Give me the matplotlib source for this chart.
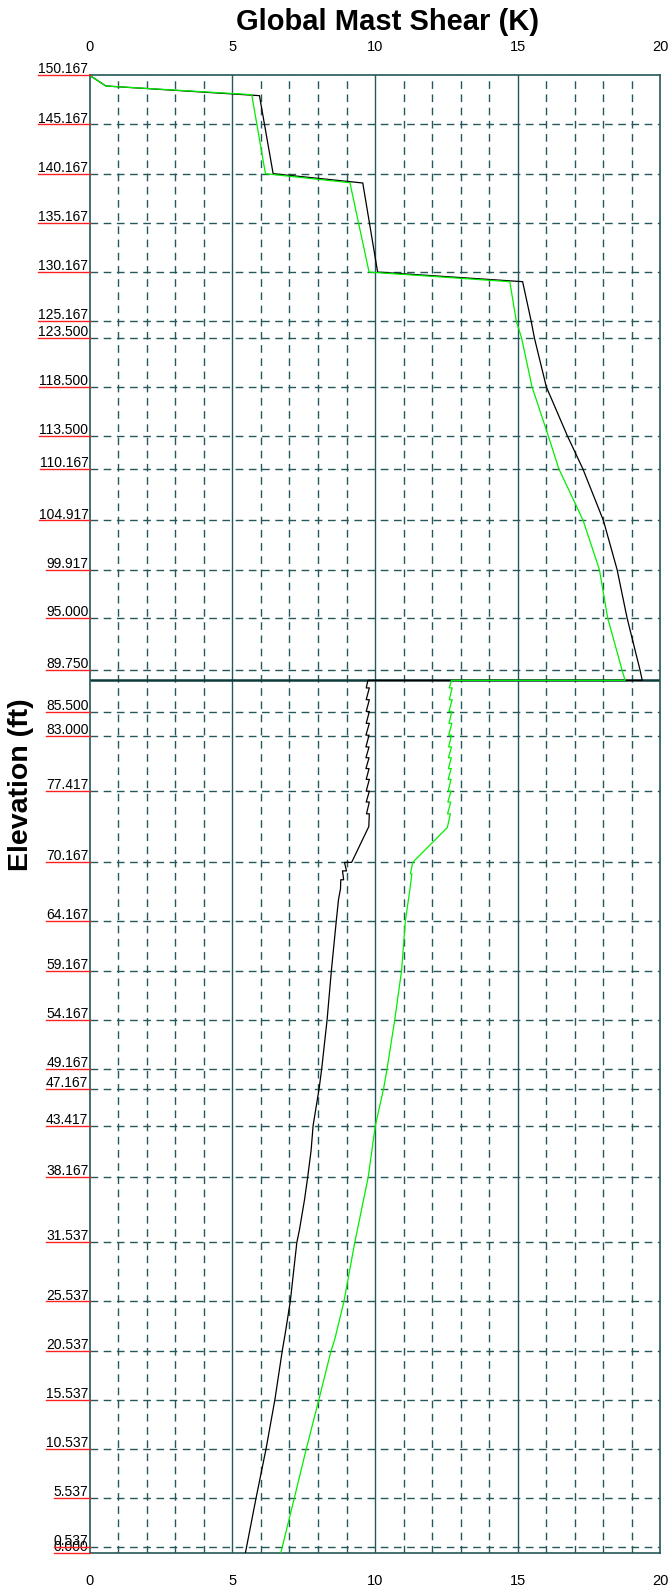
import matplotlib
matplotlib.use("Agg")
import matplotlib.pyplot as plt
from matplotlib.transforms import blended_transform_factory

plt.rcParams['font.family'] = ['Liberation Sans', 'DejaVu Sans']

# Elevations marked on the mast (ft) and their printed labels
elevation_ticks = [150.167, 145.167, 140.167, 135.167, 130.167, 125.167, 123.500,
                   118.500, 113.500, 110.167, 104.917, 99.917, 95.000, 89.750,
                   85.500, 83.000, 77.417, 70.167, 64.167, 59.167, 54.167, 49.167,
                   47.167, 43.417, 38.167, 31.537, 25.537, 20.537, 15.537, 10.537,
                   5.537, 0.537, 0.000]
elevation_labels = ["150.167", "145.167", "140.167", "135.167", "130.167", "125.167",
                    "123.500", "118.500", "113.500", "110.167", "104.917", "99.917",
                    "95.000", "89.750", "85.500", "83.000", "77.417", "70.167",
                    "64.167", "59.167", "54.167", "49.167", "47.167", "43.417",
                    "38.167", "31.537", "25.537", "20.537", "15.537", "10.537",
                    "5.537", "0.537", "0.000"]
guy_elevation = 88.667
shear_ticks = [0, 5, 10, 15, 20]
shear_tick_labels = ["0", "5", "10", "15", "20"]

# Shear envelope, black series (K) vs elevation (ft)
black_elev = [150.167, 149.08, 148.10, 140.167, 139.22, 130.167, 129.19, 125.167,
              123.5, 118.5, 113.5, 110.167, 104.917, 99.917, 95.0, 89.75, 88.667,
              88.667, 87.9, 87.9, 86.7, 86.7, 85.5, 85.5, 84.3, 84.3, 83.1, 83.1,
              81.9, 81.9, 80.8, 80.8, 79.7, 79.7, 78.6, 78.6, 77.4, 77.4, 76.3,
              76.3, 75.1, 75.1, 73.8, 70.167, 70.167, 69.3, 69.3, 68.4, 68.4, 67.5,
              66.4, 64.167, 59.167, 54.167, 49.167, 47.167, 43.417, 40.9, 38.167,
              35.9, 32.8, 31.537, 25.537, 22.4, 20.537, 15.537, 10.537, 5.537, 0.0]
black_shear = [0.0, 0.57, 5.95, 6.43, 9.57, 10.09, 15.17, 15.47,
               15.58, 16.00, 16.74, 17.28, 18.00, 18.48, 18.83, 19.28, 19.36,
               9.75, 9.69, 9.80, 9.69, 9.80, 9.69, 9.80, 9.69, 9.80, 9.68, 9.79,
               9.68, 9.79, 9.68, 9.79, 9.68, 9.79, 9.69, 9.80, 9.69, 9.80, 9.69,
               9.80, 9.70, 9.80, 9.78, 9.18, 8.93, 9.00, 8.86, 8.90, 8.80, 8.79,
               8.72, 8.64, 8.47, 8.32, 8.13, 8.04, 7.83, 7.76, 7.64,
               7.53, 7.35, 7.26, 7.03, 6.86, 6.75, 6.49, 6.18, 5.83, 5.46]

# Shear envelope, green series (K) vs elevation (ft)
green_elev = [150.167, 149.08, 148.2, 140.167, 139.25, 130.167, 129.19, 125.167,
              123.5, 118.5, 113.5, 110.167, 104.917, 99.917, 95.0, 89.75, 88.667,
              88.667, 87.9, 87.9, 86.7, 86.7, 85.5, 85.5, 84.3, 84.3, 83.1, 83.1,
              81.9, 81.9, 80.8, 80.8, 79.7, 79.7, 78.6, 78.6, 77.4, 77.4, 76.3,
              76.3, 75.1, 75.1, 73.7, 70.167, 69.0, 69.0, 67.2, 64.167, 59.167,
              54.167, 49.167, 47.167, 43.417, 38.167, 31.537, 25.537, 22.3, 21.6,
              20.537, 15.537, 10.537, 5.537, 0.0]
green_shear = [0.0, 0.57, 5.68, 6.16, 9.12, 9.79, 14.72, 14.95,
               15.13, 15.50, 16.07, 16.44, 17.29, 17.86, 18.15, 18.65, 18.76,
               12.68, 12.60, 12.70, 12.60, 12.70, 12.59, 12.69, 12.59, 12.69,
               12.58, 12.68, 12.58, 12.68, 12.57, 12.67, 12.57, 12.67, 12.56,
               12.66, 12.56, 12.66, 12.55, 12.65, 12.54, 12.64, 12.53, 11.32,
               11.24, 11.29, 11.21, 11.06, 10.93, 10.69, 10.42, 10.30, 10.01,
               9.76, 9.29, 8.91, 8.64, 8.58, 8.46, 8.03, 7.59, 7.17, 6.70]

GRID = '#24585a'
W, H = 669, 1585
fig = plt.figure(figsize=(W / 100, H / 100), dpi=100)
ax = fig.add_axes([89.6 / W, 1 - 1552.7 / H, (660.5 - 89.6) / W, (1552.7 - 75.3) / H])
ax.set_xlim(0, 20)
ax.set_ylim(0, 150.167)

dash = (0, (5.5, 4.0))
# vertical grid: solid at every 5 K, dashed at every 1 K
for xv in range(1, 20):
    if xv % 5 == 0:
        ax.axvline(xv, color=GRID, lw=1.0, zorder=1)
    else:
        ax.axvline(xv, color=GRID, lw=1.0, ls=dash, zorder=1)
# horizontal grid at each labelled elevation
for e in elevation_ticks:
    if 0 < e < 150.167:
        ax.axhline(e, color=GRID, lw=1.0, ls=dash, zorder=1)
# guy / section level
ax.axhline(guy_elevation, color='#0f3a3a', lw=1.8, zorder=2)

for s in ax.spines.values():
    s.set_color(GRID)
    s.set_linewidth(1.2)

ax.plot(black_shear, black_elev, color='black', lw=0.9, zorder=3)
ax.plot(green_shear, green_elev, color='#00ee00', lw=0.9, zorder=4)

# shear axis labels on top and bottom
ax.set_xticks(shear_ticks)
ax.set_xticklabels(shear_tick_labels)
ax.tick_params(axis='x', which='both', length=0, labelsize=10.5, pad=15,
               top=True, labeltop=True, bottom=True, labelbottom=True)
ax.set_yticks([])

# elevation labels sitting on red underlines
texts = []
for e, lab in zip(elevation_ticks, elevation_labels):
    t = ax.annotate(lab, xy=(0, e), xycoords=('axes fraction', 'data'),
                    xytext=(-0.8, 1.4), textcoords='offset points',
                    ha='right', va='baseline', fontsize=10,
                    annotation_clip=False)
    texts.append((t, e))

fig.canvas.draw()
renderer = fig.canvas.get_renderer()
blend = blended_transform_factory(ax.transAxes, ax.transData)
inv = ax.transAxes.inverted()
for t, e in texts:
    bb = t.get_window_extent(renderer)
    x_left = inv.transform((bb.x0, 0))[0]
    ax.plot([x_left, 0], [e, e], transform=blend, color='#ff2020', lw=1.0,
            clip_on=False, zorder=5)

fig.text(388 / W, 1 - 22 / H, 'Global Mast Shear (K)', ha='center', va='center',
         fontsize=21, fontweight='bold')
fig.text(20.7 / W, 1 - 785 / H, 'Elevation (ft)', rotation=90, ha='center',
         va='center', fontsize=20.5, fontweight='bold')

fig.savefig('out.png', dpi=100)
